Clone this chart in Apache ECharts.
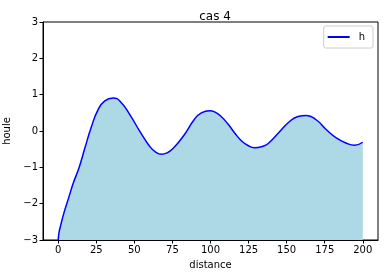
<!DOCTYPE html>
<html><head><meta charset="utf-8">
<script src="https://cdn.jsdelivr.net/npm/echarts@6/dist/echarts.min.js"></script>
<style>html,body{margin:0;padding:0;background:#fff}#c{width:384px;height:278px}</style>
</head><body><div id="c"></div>
<script>
const distance = [0,0.5,1.5,3.7,7,10,13.6,17.5,21.9,26.2,30.6,36,41,47,53.6,60,64,67.8,71.5,75.4,82,89.6,94,99.5,103,107,111.5,116,120.3,124.6,129,134.4,137.7,144.3,151.9,157.4,163,169.4,176,182.6,189,194.6,200];
const houle = [-3.0,-2.80,-2.62,-2.26,-1.82,-1.42,-1.02,-0.47,0.13,0.59,0.83,0.91,0.80,0.45,-0.01,-0.42,-0.58,-0.64,-0.60,-0.48,-0.15,0.33,0.50,0.56,0.52,0.40,0.19,-0.06,-0.27,-0.40,-0.46,-0.42,-0.35,-0.07,0.26,0.40,0.43,0.31,0.04,-0.19,-0.33,-0.39,-0.31];
const xTicks = [0,25,50,75,100,125,150,175,200];
const yTicks = [-3,-2,-1,0,1,2,3];
const seriesName = 'h';
const titleText = 'cas 4';

const chart = echarts.init(document.getElementById('c'), null, {renderer:'canvas'});
const font = 'DejaVu Sans';
chart.setOption({
  animation:false,
  title:{text:titleText,left:210,top:6,textAlign:'center',textStyle:{fontFamily:font,fontSize:12,fontWeight:'normal',color:'#000'}},
  legend:{data:[{name:seriesName,icon:'rect'}],right:11,top:26,itemWidth:22,itemHeight:2,itemGap:6,
    borderColor:'#ccc',borderWidth:1,borderRadius:2,padding:[6,8,6,4],
    textStyle:{fontFamily:font,fontSize:10,color:'#000',padding:[0,0,0,4]}},
  grid:{left:43,right:6,top:22,bottom:38,containLabel:false,outerBoundsMode:'none',show:true,borderColor:'#000',borderWidth:1,backgroundColor:'transparent'},
  xAxis:{type:'value',min:-10,max:210,name:'distance',nameLocation:'middle',nameGap:20,
    nameTextStyle:{fontFamily:font,fontSize:10,color:'#000'},
    axisLine:{show:true,onZero:false,lineStyle:{color:'#000',width:1}},
    axisTick:{show:true,inside:false,length:3.5,customValues:xTicks,lineStyle:{color:'#000'}},
    axisLabel:{customValues:xTicks,fontFamily:font,fontSize:10,color:'#000',margin:5},
    splitLine:{show:false}},
  yAxis:{type:'value',min:-3,max:3,name:'houle',nameLocation:'middle',nameGap:27,nameRotate:90,
    nameTextStyle:{fontFamily:font,fontSize:10,color:'#000'},
    axisLine:{show:true,onZero:false,lineStyle:{color:'#000',width:1}},
    axisTick:{show:true,inside:false,length:3.5,customValues:yTicks,lineStyle:{color:'#000'}},
    axisLabel:{customValues:yTicks,fontFamily:font,fontSize:10,color:'#000',margin:5,
      formatter:v=>String(v).replace('-','\u2212')},
    splitLine:{show:false}},
  series:[{name:seriesName,type:'line',smooth:0.5,symbol:'none',
    data:distance.map((d,i)=>[d,houle[i]]),
    lineStyle:{color:'#0000ff',width:1.5},itemStyle:{color:'#0000ff'},
    areaStyle:{color:'#add8e6',opacity:1,origin:'start'}}]
});
</script></body></html>
